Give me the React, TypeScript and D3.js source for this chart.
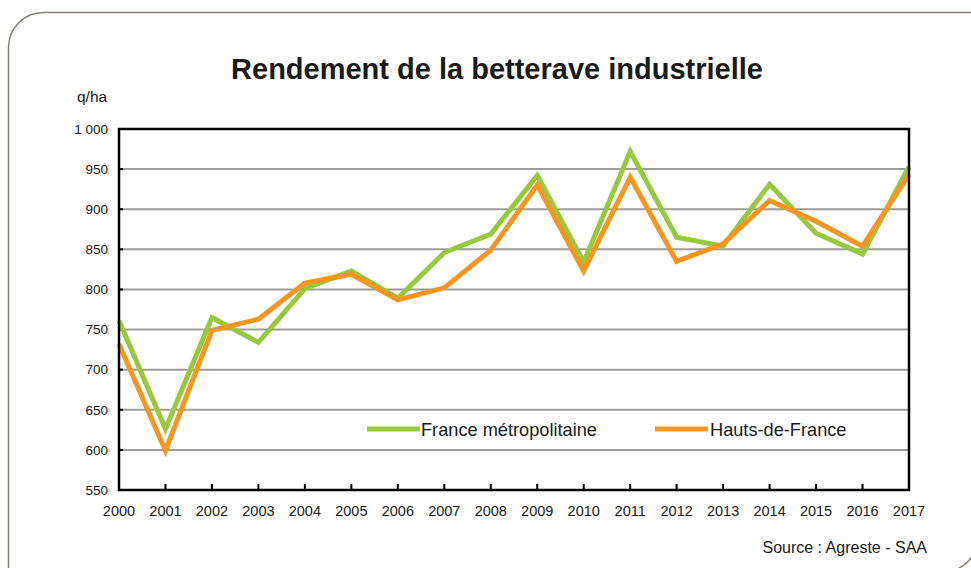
import React from "react";
import * as d3 from "d3";

const years = [2000, 2001, 2002, 2003, 2004, 2005, 2006, 2007, 2008, 2009, 2010, 2011, 2012, 2013, 2014, 2015, 2016, 2017];
const franceMetro = [761, 626, 765, 734, 801, 823, 789, 846, 869, 942, 834, 972, 865, 854, 931, 870, 844, 953];
const hautsDeFrance = [732, 599, 749, 763, 808, 819, 787, 802, 849, 930, 823, 940, 835, 857, 911, 885, 854, 943];
const yTicks = [550, 600, 650, 700, 750, 800, 850, 900, 950, 1000];
const seriesNames = ["France métropolitaine", "Hauts-de-France"];

const W = 971;
const H = 568;
const L = 119, R = 909, T = 129, B = 490;
const FONT = "'Liberation Sans', Arial, sans-serif";
const GREEN = "#97C93C";
const ORANGE = "#F7961F";

export default function App() {
  const x = d3.scaleLinear().domain([2000, 2017]).range([L, R]);
  const y = d3.scaleLinear().domain([550, 1000]).range([B, T]);
  const line = d3.line<number>().x((_, i) => x(years[i])).y((d) => y(d));
  const fmt = (v: number) => (v >= 1000 ? d3.format(",")(v).replace(",", " ") : String(v));

  const r = 35;
  const bx0 = 8.5, by0 = 12.5, bx1 = 978, by1 = 572;

  return (
    <svg width={W} height={H} style={{ position: "absolute", left: 0, top: 0, background: "#fff" }} fontFamily={FONT}>
      <path d={`M${bx0},${H} L${bx0},${by0 + r} A${r},${r} 0 0 1 ${bx0 + r},${by0} L${W},${by0}`} fill="none" stroke="#8a7e72" strokeWidth={1.5} />
      <path d={`M${bx1},${by1 - r} A${r},${r} 0 0 1 ${bx1 - r},${by1}`} fill="none" stroke="#8a7e72" strokeWidth={1.5} />

      <text x={497} y={79} textAnchor="middle" fontSize={29} fontWeight="bold" fill="#1a1a1a">
        Rendement de la betterave industrielle
      </text>
      <text x={77} y={102} fontSize={15.5} fill="#1a1a1a">q/ha</text>

      {yTicks.slice(1, -1).map((t) => (
        <line key={t} x1={L} x2={R} y1={y(t)} y2={y(t)} stroke="#9d9d9d" strokeWidth={2} />
      ))}
      {yTicks.map((t) => (
        <g key={"yt" + t}>
          <line x1={L} x2={L + 4} y1={y(t)} y2={y(t)} stroke="#000" strokeWidth={2} />
          <text x={108} y={y(t)} dy="0.35em" textAnchor="end" fontSize={13.5} fill="#1a1a1a">{fmt(t)}</text>
        </g>
      ))}
      {years.map((yr) => (
        <g key={"xt" + yr}>
          <line x1={x(yr)} x2={x(yr)} y1={B} y2={B - 6} stroke="#000" strokeWidth={2} />
          <text x={x(yr)} y={515.5} textAnchor="middle" fontSize={14.5} fill="#1a1a1a">{yr}</text>
        </g>
      ))}

      <path d={line(franceMetro) || ""} fill="none" stroke={GREEN} strokeWidth={5} strokeLinejoin="miter" />
      <path d={line(hautsDeFrance) || ""} fill="none" stroke={ORANGE} strokeWidth={5} strokeLinejoin="miter" />

      <rect x={L} y={T} width={R - L} height={B - T} fill="none" stroke="#000" strokeWidth={2.5} />

      <line x1={367} x2={420} y1={429} y2={429} stroke={GREEN} strokeWidth={5} />
      <text x={421} y={435.5} fontSize={18.2} fill="#1a1a1a">{seriesNames[0]}</text>
      <line x1={655} x2={708} y1={429} y2={429} stroke={ORANGE} strokeWidth={5} />
      <text x={710} y={435.5} fontSize={18.2} fill="#1a1a1a">{seriesNames[1]}</text>

      <text x={927} y={553} textAnchor="end" fontSize={16} fill="#1a1a1a">Source : Agreste - SAA</text>
    </svg>
  );
}
